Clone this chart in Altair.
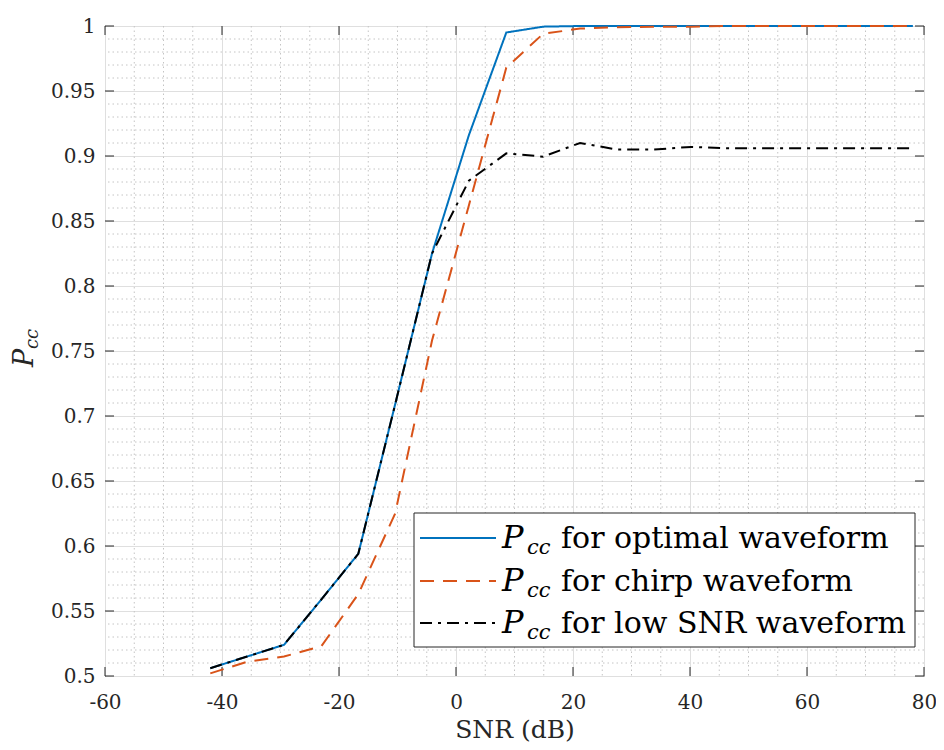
import altair as alt
import pandas as pd

# ---------------- data ----------------
snr = [-42.0, -35.7, -29.4, -23.0, -16.7, -10.4, -4.1, 2.2, 8.6, 14.9,
       21.2, 27.5, 33.8, 40.2, 46.5, 52.8, 59.1, 65.4, 71.8, 78.1]
p_optimal = [0.506, 0.515, 0.524, 0.559, 0.594, 0.709, 0.825, 0.916, 0.995, 0.9995,
             1.0, 1.0, 1.0, 1.0, 1.0, 1.0, 1.0, 1.0, 1.0, 1.0]
p_chirp = [0.502, 0.511, 0.515, 0.523, 0.563, 0.625, 0.758, 0.862, 0.968, 0.994,
           0.998, 0.999, 0.9995, 0.9995, 1.0, 1.0, 1.0, 1.0, 1.0, 1.0]
p_lowsnr = [0.506, 0.515, 0.524, 0.559, 0.594, 0.709, 0.825, 0.881, 0.902, 0.8995,
            0.910, 0.905, 0.905, 0.907, 0.906, 0.906, 0.906, 0.906, 0.906, 0.906]

x_ticks = [-60, -40, -20, 0, 20, 40, 60, 80]
y_ticks = [0.5, 0.55, 0.6, 0.65, 0.7, 0.75, 0.8, 0.85, 0.9, 0.95, 1.0]
x_minor = [v for v in range(-55, 80, 5) if v % 20 != 0]
y_minor = [round(0.5 + 0.01 * i, 2) for i in range(1, 50) if i % 5 != 0]

legend_labels = ["for optimal waveform", "for chirp waveform", "for low SNR waveform"]
sym_main = "P"
sym_sub = "cc"
x_title = "SNR (dB)"

# ---------------- styles ----------------
FONT = "DejaVu Serif"
DARK = "#262626"
colors = ["#0072BD", "#D95319", "#000000"]
dashes = [[1, 0], [14, 9], [12, 6, 3, 6]]
W, H = 819, 650

x_scale = alt.Scale(domain=[-60, 80], nice=False)
y_scale = alt.Scale(domain=[0.5, 1.0], nice=False, zero=False)

x_axis = alt.Axis(values=x_ticks, grid=True, gridColor="#dfdfdf", gridWidth=1,
                  ticks=False, domain=False, labelFont=FONT, labelFontSize=20,
                  labelColor=DARK, labelPadding=32, labelBaseline="alphabetic",
                  labelFlush=False,
                  labelExpr="datum.value < 0 ? '-' + abs(datum.value) : '' + datum.value",
                  title=x_title, titleFont=FONT, titleFontSize=25,
                  titleFontWeight="normal", titleColor=DARK,
                  titleX=W / 2, titleY=61, titleAlign="center",
                  titleBaseline="alphabetic")
y_axis = alt.Axis(values=y_ticks, grid=True, gridColor="#dfdfdf", gridWidth=1,
                  ticks=False, domain=False, labelFont=FONT, labelFontSize=20,
                  labelColor=DARK, labelPadding=10, labelFlush=False,
                  labelExpr="format(datum.value, '~g')", title="")

# minor dotted grid
minor_x = alt.Chart(pd.DataFrame({"v": x_minor})).mark_rule(
    color="#c4c4c4", strokeDash=[1.5, 3], strokeWidth=1
).encode(x=alt.X("v:Q", scale=x_scale, axis=x_axis, title=x_title))
minor_y = alt.Chart(pd.DataFrame({"v": y_minor})).mark_rule(
    color="#c4c4c4", strokeDash=[1.5, 3], strokeWidth=1
).encode(y=alt.Y("v:Q", scale=y_scale, axis=y_axis, title=""))

# inward major ticks on all four sides
df_xt = pd.DataFrame({"v": x_ticks})
df_yt = pd.DataFrame({"v": y_ticks})
tick_layers = [
    alt.Chart(df_xt).mark_rule(color=DARK, strokeWidth=1).encode(
        x=alt.X("v:Q", scale=x_scale, title=x_title), y=alt.value(H), y2=alt.value(H - 9)),
    alt.Chart(df_xt).mark_rule(color=DARK, strokeWidth=1).encode(
        x=alt.X("v:Q", scale=x_scale, title=x_title), y=alt.value(0), y2=alt.value(9)),
    alt.Chart(df_yt).mark_rule(color=DARK, strokeWidth=1).encode(
        y=alt.Y("v:Q", scale=y_scale, title=""), x=alt.value(0), x2=alt.value(9)),
    alt.Chart(df_yt).mark_rule(color=DARK, strokeWidth=1).encode(
        y=alt.Y("v:Q", scale=y_scale, title=""), x=alt.value(W), x2=alt.value(W - 9)),
]

# data lines
series = [p_optimal, p_chirp, p_lowsnr]
line_layers = []
for vals, col, dsh in zip(series, colors, dashes):
    df = pd.DataFrame({"snr": snr, "p": vals})
    line_layers.append(
        alt.Chart(df).mark_line(color=col, strokeWidth=2, strokeDash=dsh).encode(
            x=alt.X("snr:Q", scale=x_scale, title=x_title),
            y=alt.Y("p:Q", scale=y_scale, title=""),
        )
    )

# legend (drawn by hand so that the subscript can be kept)
BOX_L, BOX_R, BOX_T, BOX_B = 309, 810, 487, 621
one = pd.DataFrame({"k": [0]})
legend_layers = [
    alt.Chart(one).mark_rect(fill="white", stroke=DARK, strokeWidth=1).encode(
        x=alt.value(BOX_L), x2=alt.value(BOX_R), y=alt.value(BOX_T), y2=alt.value(BOX_B))
]
row_line_y = [512, 555, 597]
row_base_y = [522, 565, 607]
for lab, col, dsh, ly, by in zip(legend_labels, colors, dashes, row_line_y, row_base_y):
    legend_layers.append(
        alt.Chart(one).mark_rule(color=col, strokeWidth=2, strokeDash=dsh).encode(
            x=alt.value(BOX_L + 6), x2=alt.value(BOX_L + 82), y=alt.value(ly)))
    legend_layers.append(
        alt.Chart(pd.DataFrame({"t": [sym_main]})).mark_text(
            font=FONT, fontSize=32, fontStyle="italic", align="left",
            baseline="alphabetic", color="black").encode(
            x=alt.value(BOX_L + 88), y=alt.value(by), text="t:N"))
    legend_layers.append(
        alt.Chart(pd.DataFrame({"t": [sym_sub]})).mark_text(
            font=FONT, fontSize=21, fontStyle="italic", align="left",
            baseline="alphabetic", color="black").encode(
            x=alt.value(BOX_L + 113), y=alt.value(by + 6), text="t:N"))
    legend_layers.append(
        alt.Chart(pd.DataFrame({"t": [lab]})).mark_text(
            font=FONT, fontSize=30, align="left",
            baseline="alphabetic", color="black").encode(
            x=alt.value(BOX_L + 147), y=alt.value(by), text="t:N"))

# y-axis title P_cc (rotated)
ytitle_layers = [
    alt.Chart(pd.DataFrame({"t": [sym_main]})).mark_text(
        font=FONT, fontSize=27, fontStyle="italic", angle=270, align="center",
        baseline="middle", color=DARK).encode(
        x=alt.value(-80), y=alt.value(332), text="t:N"),
    alt.Chart(pd.DataFrame({"t": [sym_sub]})).mark_text(
        font=FONT, fontSize=18, fontStyle="italic", angle=270, align="center",
        baseline="middle", color=DARK).encode(
        x=alt.value(-72), y=alt.value(313), text="t:N"),
]

chart = alt.layer(
    minor_x, minor_y, *tick_layers, *line_layers, *legend_layers, *ytitle_layers
).properties(
    width=W, height=H,
    padding={"left": 97, "top": 18, "right": 12, "bottom": 66},
    autosize=alt.AutoSizeParams(type="none"),
    background="white",
).configure_view(stroke=DARK, strokeWidth=1)

chart.save("out.html", embed_options={"renderer": "svg", "actions": False})
